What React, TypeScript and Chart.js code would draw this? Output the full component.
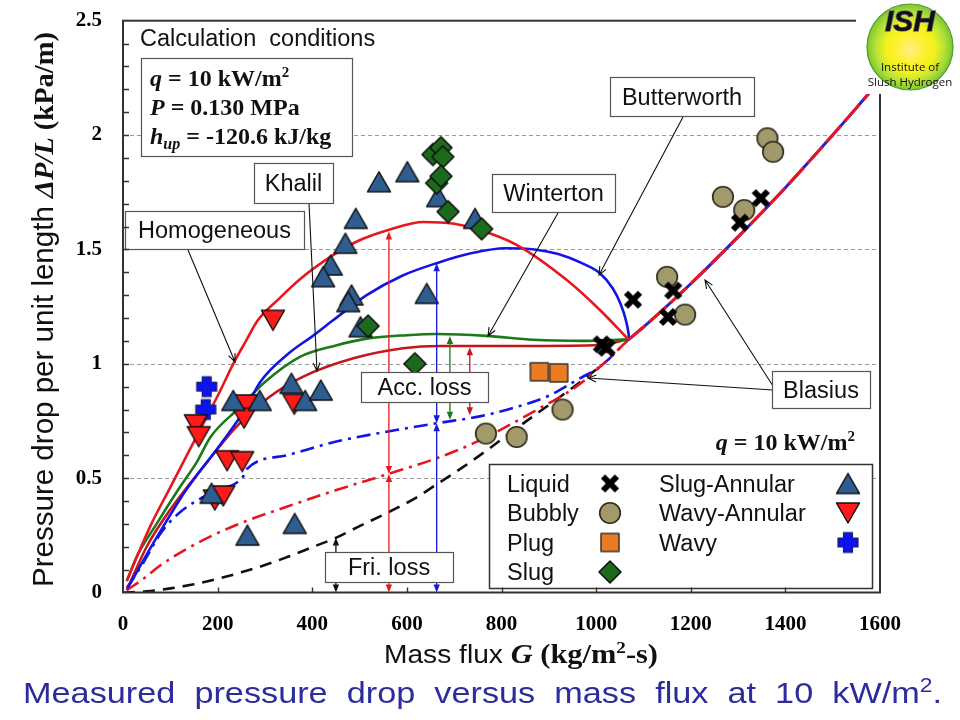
import React, { useEffect, useRef } from 'react';
import { Chart, registerables } from 'chart.js';

Chart.register(...registerables);

const SANS = '"Liberation Sans", Arial, sans-serif';
const SERIF = '"Liberation Serif", "Times New Roman", serif';

// ---------------- measured data (G kg/m2-s, dP/L kPa/m) ----------------
const liquidG = [1012, 1022, 1078, 1152, 1163, 1304, 1348];
const liquidDP = [1.085, 1.07, 1.28, 1.205, 1.32, 1.617, 1.724];

const bubblyG = [767, 832, 929, 1150, 1188, 1268, 1313, 1362, 1374];
const bubblyDP = [0.695, 0.68, 0.8, 1.38, 1.215, 1.73, 1.672, 1.986, 1.927];

const plugG = [880, 921];
const plugDP = [0.965, 0.96];

const slugG = [655, 672, 676, 663, 672, 687, 758, 518, 617];
const slugDP = [1.915, 1.945, 1.905, 1.79, 1.82, 1.665, 1.59, 1.165, 1.0];

const slugAnnG = [233, 289, 356, 385, 418, 187, 263, 363, 541, 601, 666, 492, 470, 439, 423, 483, 476, 502, 642, 744];
const slugAnnDP = [0.84, 0.84, 0.915, 0.84, 0.885, 0.434, 0.251, 0.302, 1.796, 1.84, 1.731, 1.636, 1.527, 1.432, 1.381, 1.301, 1.272, 1.162, 1.308, 1.636];

const wavyAnnG = [154, 160, 220, 252, 194, 212, 260, 256, 362, 317];
const wavyAnnDP = [0.733, 0.681, 0.576, 0.572, 0.404, 0.422, 0.82, 0.762, 0.823, 1.19];

const wavyG = [177, 175];
const wavyDP = [0.9, 0.8];

// ---------------- model curves ----------------
const homogeneousG = [8, 30, 60, 100, 140, 160, 205, 233, 260, 285, 330, 374, 444, 500, 561, 635, 700, 754, 832, 938, 1008, 1068];
const homogeneousDP = [0.05, 0.16, 0.3, 0.46, 0.62, 0.7, 0.88, 1.0, 1.1, 1.19, 1.285, 1.37, 1.475, 1.54, 1.585, 1.62, 1.612, 1.585, 1.52, 1.366, 1.235, 1.107];

const butterworthG = [10, 40, 71, 134, 205, 261, 290, 353, 400, 444, 515, 590, 663, 740, 808, 870, 920, 970, 1008, 1035, 1052, 1063, 1068, 1070];
const butterworthDP = [0.02, 0.13, 0.24, 0.45, 0.645, 0.81, 0.92, 1.05, 1.12, 1.19, 1.3, 1.385, 1.44, 1.485, 1.505, 1.5, 1.48, 1.44, 1.396, 1.33, 1.26, 1.19, 1.14, 1.107];

const wintertonG = [8, 30, 71, 120, 156, 185, 247, 300, 374, 450, 515, 600, 663, 768, 867, 970, 1068];
const wintertonDP = [0.05, 0.16, 0.3, 0.46, 0.57, 0.68, 0.81, 0.92, 1.03, 1.08, 1.11, 1.125, 1.13, 1.122, 1.105, 1.1, 1.107];

const khalilG = [8, 50, 99, 170, 240, 310, 381, 487, 592, 670, 867, 1008, 1068];
const khalilDP = [0.01, 0.2, 0.36, 0.55, 0.725, 0.856, 0.944, 1.024, 1.068, 1.078, 1.078, 1.082, 1.107];

const homFricG = [8, 43, 80, 134, 190, 245, 346, 451, 560, 663, 754, 867, 958, 1010, 1068];
const homFricDP = [0.01, 0.06, 0.12, 0.19, 0.25, 0.3, 0.375, 0.448, 0.518, 0.587, 0.665, 0.79, 0.9, 0.99, 1.105];

const butFricG = [8, 40, 80, 120, 190, 255, 262, 346, 451, 557, 663, 754, 830, 900, 960, 1010, 1068];
const butFricDP = [0.02, 0.12, 0.26, 0.35, 0.44, 0.51, 0.54, 0.6, 0.66, 0.703, 0.74, 0.77, 0.81, 0.86, 0.93, 0.99, 1.105];

const liqFricG = [0, 50, 100, 150, 200, 250, 300, 350, 400, 451, 500, 560, 620, 666, 720, 768, 820, 880, 958, 1000];
const liqFricDP = [0, 0.005, 0.018, 0.036, 0.06, 0.088, 0.12, 0.157, 0.198, 0.24, 0.29, 0.35, 0.415, 0.477, 0.55, 0.62, 0.7, 0.79, 0.907, 0.975];

const blasiusG = [1068, 1100, 1200, 1300, 1400, 1500, 1580];
const blasiusDP = [1.105, 1.16, 1.35, 1.555, 1.77, 2.0, 2.19];

// component arrows: G position, lower and upper values
const arrowG = [450, 562, 562, 663, 663, 691, 733];
const arrowLow = [0, 0, 0.518, 0, 0.74, 0.755, 0.775];
const arrowHigh = [0.24, 0.518, 1.578, 0.74, 1.44, 1.122, 1.072];
const arrowColor = ['#111111', '#E8171F', '#E8171F', '#1414E6', '#1414E6', '#1A7A1A', '#C4161C'];

const xTicks = [0, 200, 400, 600, 800, 1000, 1200, 1400, 1600];
const yTicks = [0, 0.5, 1, 1.5, 2, 2.5];

const pts = (g: number[], d: number[]) => g.map((x, i) => ({ x, y: d[i] }));

function makeMarker(kind: string): HTMLCanvasElement {
  const c = document.createElement('canvas');
  c.width = 28;
  c.height = 28;
  const g = c.getContext('2d')!;
  const m = 14;
  g.lineJoin = 'round';
  const poly = (p: number[][], fill: string, stroke: string, lw: number) => {
    g.beginPath();
    p.forEach(([a, b], i) => (i ? g.lineTo(m + a, m + b) : g.moveTo(m + a, m + b)));
    g.closePath();
    g.fillStyle = fill;
    g.fill();
    g.lineWidth = lw;
    g.strokeStyle = stroke;
    g.stroke();
  };
  switch (kind) {
    case 'x':
      g.strokeStyle = '#000';
      g.lineWidth = 6;
      g.lineCap = 'butt';
      g.beginPath();
      g.moveTo(m - 7, m - 7);
      g.lineTo(m + 7, m + 7);
      g.moveTo(m + 7, m - 7);
      g.lineTo(m - 7, m + 7);
      g.stroke();
      break;
    case 'circle':
      g.beginPath();
      g.arc(m, m, 10.3, 0, Math.PI * 2);
      g.fillStyle = '#A39A6B';
      g.fill();
      g.lineWidth = 1.6;
      g.strokeStyle = '#2a2a1a';
      g.stroke();
      break;
    case 'square':
      poly([[-9, -9], [9, -9], [9, 9], [-9, 9]], '#EC7A20', '#333', 1.5);
      break;
    case 'diamond':
      poly([[0, -11], [11, 0], [0, 11], [-11, 0]], '#1C6B1C', '#111', 1.5);
      break;
    case 'triUp':
      poly([[0, -10], [11.5, 10], [-11.5, 10]], '#2F5D8F', '#111', 1.5);
      break;
    case 'triDown':
      poly([[-11.5, -10], [11.5, -10], [0, 10]], '#FF1A1A', '#111', 1.5);
      break;
    case 'plus':
      poly(
        [[-4.5, -10], [4.5, -10], [4.5, -4.5], [10, -4.5], [10, 4.5], [4.5, 4.5], [4.5, 10], [-4.5, 10], [-4.5, 4.5], [-10, 4.5], [-10, -4.5], [-4.5, -4.5]],
        '#0A14F0', '#20205a', 1.2
      );
      break;
  }
  return c;
}

type Run = { t: string; f: string; dy?: number };
function runsWidth(ctx: CanvasRenderingContext2D, runs: Run[]) {
  let w = 0;
  for (const r of runs) {
    ctx.font = r.f;
    w += ctx.measureText(r.t).width;
  }
  return w;
}
function drawRuns(ctx: CanvasRenderingContext2D, x: number, y: number, runs: Run[], color: string) {
  ctx.fillStyle = color;
  ctx.textBaseline = 'alphabetic';
  ctx.textAlign = 'left';
  let cx = x;
  for (const r of runs) {
    ctx.font = r.f;
    ctx.fillText(r.t, cx, y + (r.dy || 0));
    cx += ctx.measureText(r.t).width;
  }
  return cx - x;
}
// draws runs stretched horizontally so that they occupy targetW
function drawRunsFit(ctx: CanvasRenderingContext2D, x: number, y: number, runs: Run[], color: string, targetW: number) {
  const w = runsWidth(ctx, runs);
  ctx.save();
  ctx.translate(x, y);
  ctx.scale(targetW / w, 1);
  drawRuns(ctx, 0, 0, runs, color);
  ctx.restore();
}

export default function App() {
  const ref = useRef<HTMLCanvasElement>(null);

  useEffect(() => {
    const canvas = ref.current!;
    const mk: Record<string, HTMLCanvasElement> = {
      x: makeMarker('x'),
      circle: makeMarker('circle'),
      square: makeMarker('square'),
      diamond: makeMarker('diamond'),
      triUp: makeMarker('triUp'),
      triDown: makeMarker('triDown'),
      plus: makeMarker('plus'),
    };

    const scatter = (label: string, g: number[], d: number[], img: HTMLCanvasElement) => ({
      label,
      data: pts(g, d),
      pointStyle: img,
      pointRadius: 11,
      showLine: false,
    });
    const curve = (label: string, g: number[], d: number[], color: string, width: number, dash: number[] = []) => ({
      label,
      data: pts(g, d),
      showLine: true,
      pointRadius: 0,
      borderColor: color,
      borderWidth: width,
      borderDash: dash,
      fill: false,
      cubicInterpolationMode: 'monotone' as const,
    });

    const datasets: any[] = [
      scatter('Liquid', liquidG, liquidDP, mk.x),
      scatter('Bubbly', bubblyG, bubblyDP, mk.circle),
      scatter('Plug', plugG, plugDP, mk.square),
      scatter('Slug', slugG, slugDP, mk.diamond),
      scatter('Slug-Annular', slugAnnG, slugAnnDP, mk.triUp),
      scatter('Wavy-Annular', wavyAnnG, wavyAnnDP, mk.triDown),
      scatter('Wavy', wavyG, wavyDP, mk.plus),
      curve('Blasius', blasiusG, blasiusDP, '#E8171F', 3, [22, 6]),
      curve('Blasius (blue)', blasiusG, blasiusDP, '#2020D8', 3),
      curve('Homogeneous', homogeneousG, homogeneousDP, '#E8171F', 2.6),
      curve('Butterworth', butterworthG, butterworthDP, '#1414E6', 2.6),
      curve('Winterton', wintertonG, wintertonDP, '#1A7A1A', 2.6),
      curve('Khalil', khalilG, khalilDP, '#C4161C', 2.6),
      curve('Homogeneous friction', homFricG, homFricDP, '#E8171F', 2.6, [14, 6, 3, 6]),
      curve('Butterworth friction', butFricG, butFricDP, '#1414E6', 2.6, [14, 6, 3, 6]),
      curve('Liquid friction', liqFricG, liqFricDP, '#111111', 2.6, [12, 8]),
    ];

    const boxes = [
      { text: 'Homogeneous', x1: 125, y1: 211, x2: 304, y2: 249 },
      { text: 'Khalil', x1: 254, y1: 163, x2: 333, y2: 203 },
      { text: 'Winterton', x1: 492, y1: 174, x2: 615, y2: 212 },
      { text: 'Butterworth', x1: 610, y1: 77, x2: 754, y2: 116 },
      { text: 'Acc. loss', x1: 361, y1: 372, x2: 488, y2: 402 },
      { text: 'Fri. loss', x1: 325, y1: 552, x2: 453, y2: 582 },
      { text: 'Blasius', x1: 772, y1: 371, x2: 870, y2: 408 },
    ];
    const leaders = [
      [188, 250, 235, 362],
      [309, 203, 317, 371],
      [558, 213, 488, 336],
      [683, 117, 599, 275],
      [773, 386, 705, 280],
      [773, 390, 588, 378],
    ];
    const legendRows = [
      { text: 'Liquid', col: 0, row: 0, img: 'x' },
      { text: 'Bubbly', col: 0, row: 1, img: 'circle' },
      { text: 'Plug', col: 0, row: 2, img: 'square' },
      { text: 'Slug', col: 0, row: 3, img: 'diamond' },
      { text: 'Slug-Annular', col: 1, row: 0, img: 'triUp' },
      { text: 'Wavy-Annular', col: 1, row: 1, img: 'triDown' },
      { text: 'Wavy', col: 1, row: 2, img: 'plus' },
    ];

    const annot = {
      id: 'annot',
      beforeDatasetsDraw(chart: any) {
        const { ctx, chartArea: ca, scales } = chart;
        const y = scales.y;
        ctx.save();
        ctx.strokeStyle = '#9a9a9a';
        ctx.lineWidth = 1;
        ctx.setLineDash([4, 3]);
        [0.5, 1, 1.5, 2].forEach((v) => {
          const py = Math.round(y.getPixelForValue(v)) + 0.5;
          ctx.beginPath();
          ctx.moveTo(ca.left, py);
          ctx.lineTo(ca.right, py);
          ctx.stroke();
        });
        ctx.restore();
      },
      afterDatasetsDraw(chart: any) {
        const { ctx, chartArea: ca, scales } = chart;
        const xs = scales.x;
        const ys = scales.y;
        ctx.save();

        // component arrows
        const head = (x: number, tipY: number, dir: number, color: string) => {
          ctx.fillStyle = color;
          ctx.beginPath();
          ctx.moveTo(x, tipY);
          ctx.lineTo(x - 3.2, tipY + dir * 8);
          ctx.lineTo(x + 3.2, tipY + dir * 8);
          ctx.closePath();
          ctx.fill();
        };
        arrowG.forEach((g, i) => {
          const x = xs.getPixelForValue(g);
          const yb = ys.getPixelForValue(arrowLow[i]);
          const yt = ys.getPixelForValue(arrowHigh[i]);
          ctx.strokeStyle = arrowColor[i];
          ctx.lineWidth = 1.3;
          ctx.beginPath();
          ctx.moveTo(x, yb - 6);
          ctx.lineTo(x, yt + 6);
          ctx.stroke();
          head(x, yt, 1, arrowColor[i]);
          head(x, yb, -1, arrowColor[i]);
        });

        // leader lines
        ctx.strokeStyle = '#111';
        ctx.lineWidth = 1.1;
        leaders.forEach(([x1, y1, x2, y2]) => {
          ctx.beginPath();
          ctx.moveTo(x1, y1);
          ctx.lineTo(x2, y2);
          const a = Math.atan2(y2 - y1, x2 - x1);
          ctx.moveTo(x2 - 9 * Math.cos(a - 0.4), y2 - 9 * Math.sin(a - 0.4));
          ctx.lineTo(x2, y2);
          ctx.lineTo(x2 - 9 * Math.cos(a + 0.4), y2 - 9 * Math.sin(a + 0.4));
          ctx.stroke();
        });

        // label boxes
        boxes.forEach((b) => {
          ctx.fillStyle = '#fff';
          ctx.fillRect(b.x1, b.y1, b.x2 - b.x1, b.y2 - b.y1);
          ctx.strokeStyle = '#555';
          ctx.lineWidth = 1.2;
          ctx.strokeRect(b.x1 + 0.5, b.y1 + 0.5, b.x2 - b.x1, b.y2 - b.y1);
          ctx.font = `23.5px ${SANS}`;
          ctx.fillStyle = '#111';
          ctx.textAlign = 'center';
          ctx.textBaseline = 'alphabetic';
          ctx.fillText(b.text, (b.x1 + b.x2) / 2, (b.y1 + b.y2) / 2 + 8.4);
        });

        // calculation conditions
        ctx.textAlign = 'left';
        ctx.font = `23.5px ${SANS}`;
        ctx.fillStyle = '#111';
        ctx.fillText('Calculation  conditions', 140, 46);
        ctx.fillStyle = '#fff';
        ctx.fillRect(141, 58, 211, 98);
        ctx.strokeStyle = '#555';
        ctx.lineWidth = 1.2;
        ctx.strokeRect(141.5, 58.5, 211, 98);
        const B = `bold 24px ${SERIF}`;
        const BI = `italic bold 24px ${SERIF}`;
        drawRuns(ctx, 150, 86, [{ t: 'q', f: BI }, { t: ' = 10 kW/m', f: B }, { t: '2', f: `bold 15px ${SERIF}`, dy: -9 }], '#111');
        drawRuns(ctx, 150, 115, [{ t: 'P', f: BI }, { t: ' = 0.130 MPa', f: B }], '#111');
        drawRuns(ctx, 150, 144, [{ t: 'h', f: BI }, { t: 'up', f: `italic bold 16px ${SERIF}`, dy: 5 }, { t: ' = -120.6 kJ/kg', f: B }], '#111');

        // q label bottom right
        const qRuns: Run[] = [{ t: 'q', f: BI }, { t: ' = 10 kW/m', f: B }, { t: '2', f: `bold 15px ${SERIF}`, dy: -9 }];
        drawRuns(ctx, 855 - runsWidth(ctx, qRuns), 450, qRuns, '#111');

        // legend
        ctx.fillStyle = '#fff';
        ctx.fillRect(489, 464, 383, 124);
        ctx.strokeStyle = '#333';
        ctx.lineWidth = 1.5;
        ctx.strokeRect(489.5, 464.5, 383, 124);
        legendRows.forEach((r) => {
          const tx = r.col === 0 ? 507 : 659;
          const mx = r.col === 0 ? 610 : 848;
          const by = 491.5 + r.row * 29.5;
          ctx.font = `23.5px ${SANS}`;
          ctx.fillStyle = '#111';
          ctx.textAlign = 'left';
          ctx.fillText(r.text, tx, by);
          const im = mk[r.img];
          ctx.drawImage(im, mx - im.width / 2, by - 8 - im.height / 2);
        });

        // frame and inside ticks
        ctx.strokeStyle = '#333';
        ctx.lineWidth = 2;
        ctx.setLineDash([]);
        ctx.strokeRect(ca.left, ca.top, ca.right - ca.left, ca.bottom - ca.top);
        ctx.lineWidth = 1.4;
        ctx.beginPath();
        for (let i = 1; i < 25; i++) {
          const py = Math.round(ys.getPixelForValue(i / 10)) + 0.5;
          ctx.moveTo(ca.left, py);
          ctx.lineTo(ca.left + 6, py);
        }
        xTicks.slice(1, -1).forEach((t) => {
          const px = Math.round(xs.getPixelForValue(t)) + 0.5;
          ctx.moveTo(px, ca.bottom);
          ctx.lineTo(px, ca.bottom - 5);
        });
        ctx.stroke();

        // logo
        ctx.fillStyle = '#fff';
        ctx.fillRect(856, 0, 104, 94);
        const grad = ctx.createRadialGradient(910, 50, 2, 910, 47, 43);
        grad.addColorStop(0, '#FFEE80');
        grad.addColorStop(0.3, '#FFF030');
        grad.addColorStop(0.55, '#F2F21A');
        grad.addColorStop(0.8, '#B4E03A');
        grad.addColorStop(1, '#7CC82C');
        ctx.beginPath();
        ctx.arc(910, 47, 43, 0, Math.PI * 2);
        ctx.fillStyle = grad;
        ctx.fill();
        ctx.strokeStyle = '#4E9A2A';
        ctx.lineWidth = 1.2;
        ctx.stroke();
        ctx.textAlign = 'center';
        ctx.font = `italic bold 30px ${SANS}`;
        ctx.lineWidth = 1.5;
        ctx.strokeStyle = '#777';
        ctx.strokeText('ISH', 910, 31);
        ctx.fillStyle = '#111';
        ctx.fillText('ISH', 910, 31);
        ctx.font = `11.5px "Open Sans", ${SANS}`;
        ctx.fillText('Institute of', 910, 71);
        ctx.fillText('Slush Hydrogen', 910, 86);

        // axis titles
        ctx.save();
        ctx.translate(53, 587);
        ctx.rotate(-Math.PI / 2);
        drawRunsFit(ctx, 0, 0, [
          { t: 'Pressure drop per unit length ', f: `29px ${SANS}` },
          { t: '\u0394P/L', f: `italic bold 28px ${SERIF}` },
          { t: ' (kPa/m)', f: `bold 28px ${SERIF}` },
        ], '#111', 555);
        ctx.restore();

        drawRunsFit(ctx, 384, 663, [
          { t: 'Mass flux ', f: `25px ${SANS}` },
          { t: 'G', f: `italic bold 27px ${SERIF}` },
          { t: ' (kg/m', f: `bold 27px ${SERIF}` },
          { t: '2', f: `bold 17px ${SERIF}`, dy: -10 },
          { t: '-s)', f: `bold 27px ${SERIF}` },
        ], '#111', 274);

        // caption
        const CF = `30px ${SANS}`;
        drawRunsFit(ctx, 23, 703, [
          { t: 'Measured  pressure  drop  versus  mass  flux  at  10  kW/m', f: CF },
          { t: '2', f: `20px ${SANS}`, dy: -11 },
          { t: '.', f: CF },
        ], '#2C2C9C', 919);

        ctx.restore();
      },
    };

    const tickFont = { family: SERIF, size: 21, weight: 'bold' as const };
    const chart = new Chart(canvas, {
      type: 'scatter',
      data: { datasets },
      options: {
        animation: false,
        responsive: false,
        events: [],
        layout: { padding: { top: 20.7, right: 80, left: 0, bottom: 0 } },
        plugins: { legend: { display: false }, tooltip: { enabled: false } },
        scales: {
          x: {
            type: 'linear',
            min: 0,
            max: 1600,
            afterBuildTicks: (s: any) => {
              s.ticks = xTicks.map((v) => ({ value: v }));
            },
            ticks: { font: tickFont, color: '#000', padding: 19, maxRotation: 0, autoSkip: false, callback: (v: any) => String(v) },
            grid: { display: false, drawTicks: false },
            border: { display: false },
            afterFit: (s: any) => {
              s.height = 127.5;
              s.paddingLeft = 0;
              s.paddingRight = 0;
            },
          },
          y: {
            type: 'linear',
            min: 0,
            max: 2.5,
            afterBuildTicks: (s: any) => {
              s.ticks = yTicks.map((v) => ({ value: v }));
            },
            ticks: { font: tickFont, color: '#000', padding: 21, callback: (v: any) => String(v) },
            grid: { display: false, drawTicks: false },
            border: { display: false },
            afterFit: (s: any) => {
              s.width = 123;
              s.paddingTop = 0;
              s.paddingBottom = 0;
            },
          },
        },
      },
      plugins: [annot],
    });
    return () => chart.destroy();
  }, []);

  return (
    <div style={{ position: 'absolute', left: 0, top: 0, width: 960, height: 720, background: '#fff' }}>
      <canvas ref={ref} width={960} height={720} style={{ display: 'block' }} />
    </div>
  );
}
